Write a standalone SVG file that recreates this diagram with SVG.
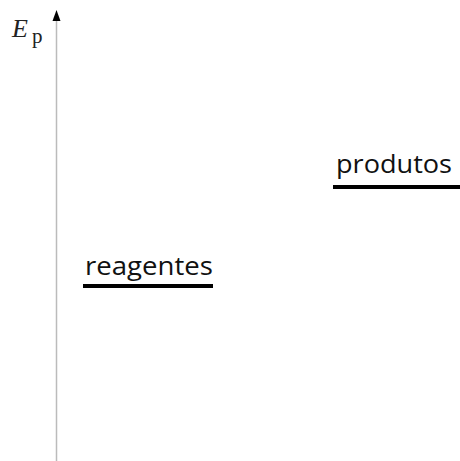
<svg xmlns="http://www.w3.org/2000/svg" width="460" height="461" viewBox="0 0 460 461">
<style>
.lbl{font-family:"Open Sans","Liberation Sans",sans-serif;font-size:25px;fill:#111}
.lvl{stroke:#000;stroke-width:4}
</style>
<rect width="460" height="461" fill="#fff"/>
<g id="axis">
<line x1="56.5" y1="461" x2="56.5" y2="21" stroke="#bbb" stroke-width="1.5"/>
<path d="M52.5,21 L56.5,10 L60.5,21 Z" fill="#000"/>
<text x="12" y="37" font-family="Liberation Serif,serif" font-style="italic" font-size="26" fill="#222">E</text>
<text x="32" y="43" font-family="Liberation Serif,serif" font-size="21" fill="#222">p</text>
</g>
<g id="reagentes">
<text class="lbl" x="85" y="275" textLength="128" lengthAdjust="spacingAndGlyphs">reagentes</text>
<line class="lvl" x1="83" y1="286" x2="213" y2="286"/>
</g>
<g id="produtos">
<text class="lbl" x="336" y="173" textLength="116" lengthAdjust="spacingAndGlyphs">produtos</text>
<line class="lvl" x1="333" y1="187" x2="460" y2="187"/>
</g>
</svg>
